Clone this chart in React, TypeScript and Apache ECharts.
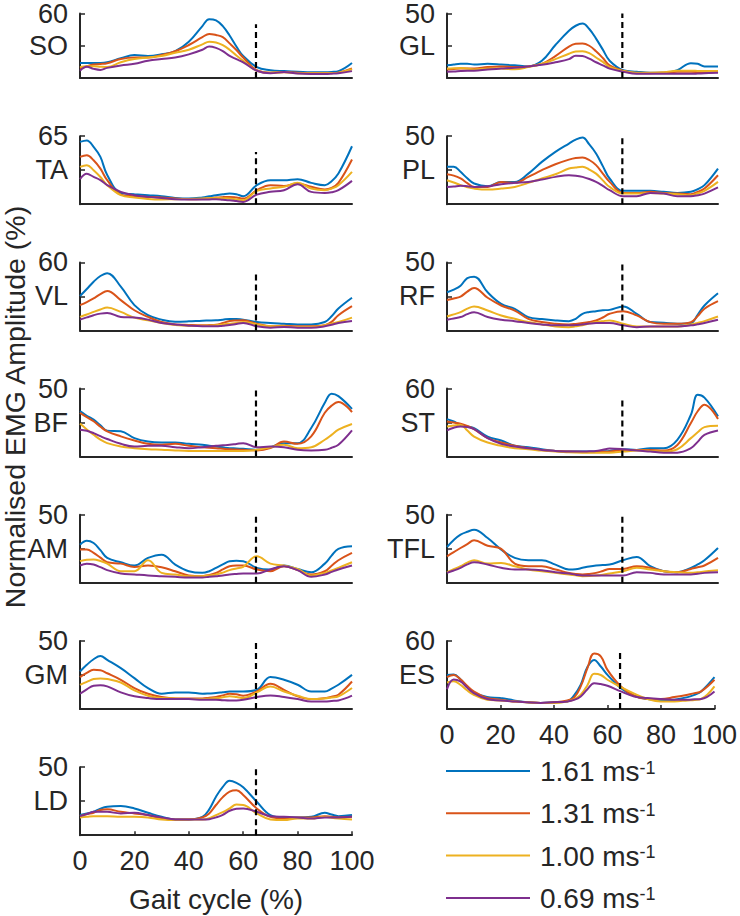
import { useEffect, useRef } from 'react';
import * as echarts from 'echarts';

// Gait cycle sample points (%)
const gaitX = [0, 2.5, 5, 7.5, 10, 15, 20, 25, 30, 35, 40, 45, 47.5, 50, 52.5, 55, 57.5, 60, 65, 70, 75, 80, 85, 90, 92.5, 95, 100];
const speeds = ['1.61', '1.31', '1.00', '0.69'];
const colors = ['#0072BD', '#D95319', '#EDB120', '#7E2F8E'];
const toeOff = 64.7;
const toeOffTop = 50;
const xTickValues = [0, 20, 40, 60, 80, 100];

const leftMuscles = ['SO', 'TA', 'VL', 'BF', 'AM', 'GM', 'LD'];
const leftMax = [60, 65, 60, 50, 50, 50, 50];
const rightMuscles = ['GL', 'PL', 'RF', 'ST', 'TFL', 'ES'];
const rightMax = [50, 50, 50, 60, 50, 60];

// each muscle: rows = speeds (1.61, 1.31, 1.00, 0.69 m/s), columns = gaitX
const SO = [
  [14, 14, 14, 14, 14.6, 18.4, 21.4, 20.5, 22, 24.9, 33.7, 48.3, 54.7, 53.6, 48.3, 39.5, 29.3, 20.5, 10.2, 7.3, 6.4, 5.9, 5.3, 5.3, 5.6, 6.4, 14],
  [8.8, 11, 12.6, 13, 13.8, 17.6, 19, 19, 21.4, 24.9, 30.7, 38, 41, 40, 38, 32.2, 26, 19, 7.3, 5, 5.3, 5, 4.4, 4.4, 4.6, 5, 8.8],
  [10.2, 11, 11, 10.5, 10.2, 14.6, 17.6, 19, 20.5, 23.4, 26.3, 31.3, 33.7, 33, 30.5, 26.3, 21, 16, 6.7, 5, 5.6, 4.4, 4.4, 4.4, 4.6, 5, 8.2],
  [6.7, 10.5, 8.5, 7.5, 9.4, 11.7, 13.2, 16, 17.6, 19, 22, 26.3, 29.3, 28, 25, 20.5, 17.5, 14.6, 6.7, 4.4, 5.6, 4.1, 3.8, 3.8, 4, 4.4, 6.4],
];
const TA = [
  [59.6, 61, 54.8, 45.2, 28, 10.8, 9.6, 8.6, 7.6, 6, 5.4, 6.4, 7.5, 8.6, 9.5, 10.2, 9.5, 7.6, 18.2, 22.9, 22.9, 23.9, 20.4, 18.2, 22, 29.3, 55.4],
  [45.2, 46.8, 42, 34, 23, 9.2, 7.6, 7, 6.4, 5.4, 4.8, 5, 5.6, 6.4, 6.8, 7, 6.4, 5.4, 13.4, 18.2, 17.5, 19.8, 16.6, 14, 15.5, 20.4, 42.7],
  [35.7, 37.3, 32.5, 26, 18.2, 8.6, 6.4, 5, 4.5, 4.8, 5, 5.4, 5.7, 6, 5.7, 5.4, 4.6, 3.8, 12.7, 15, 16.6, 20.4, 15, 13.4, 15, 18.2, 30.9],
  [23.9, 29, 26.1, 23, 18.2, 11.8, 8.6, 7, 6, 4.8, 4.5, 4.5, 4.6, 4.8, 4.3, 3.8, 3, 2.2, 9.2, 11.8, 13.4, 19.1, 11.8, 10.8, 11.5, 13.4, 22.3],
];
const VL = [
  [30.3, 36.5, 43, 48, 50.5, 38.6, 22.3, 13.4, 9.5, 7.7, 8, 8.6, 8.7, 8.9, 9.5, 10.1, 10, 9.5, 7.4, 6.5, 5.9, 5.3, 5.3, 7.4, 12.5, 19.3, 28.8],
  [22.3, 25, 28.2, 32, 34.8, 26.7, 17.8, 11.9, 7.4, 5.3, 4.8, 4.5, 4.7, 5, 6.5, 8.3, 8.7, 8.9, 5.9, 3.6, 4.2, 3.6, 3.6, 4.5, 7.5, 13.4, 21.4],
  [11.9, 14, 16.3, 18.5, 20.2, 16.3, 11.3, 8.9, 6.5, 4.8, 4.2, 4.2, 4.3, 4.5, 5.2, 5.9, 6.6, 7.4, 5.3, 3.6, 3.6, 3, 3, 4.5, 6, 7.4, 11.3],
  [9.5, 11.5, 13.4, 14.8, 15.4, 11.9, 11.3, 9.5, 6.5, 5.3, 4.2, 3.6, 3.6, 3.6, 4.2, 4.8, 5.7, 6.5, 3.6, 2.4, 3, 2.4, 2.4, 3.6, 5, 6.5, 8.3],
];
const BF = [
  [33.4, 30, 27.2, 23, 19.1, 18.6, 13.6, 11.1, 10.4, 10.4, 9.4, 8.7, 8, 7.4, 6.8, 6.2, 6, 5.7, 5, 6.9, 9.9, 9.9, 21, 39.6, 46.3, 44.5, 35.1],
  [32.2, 29, 26, 22, 18.6, 14.9, 11.9, 9.4, 8.7, 9.4, 7.9, 6.9, 6.5, 6.2, 5.8, 5.4, 5.2, 5, 4.5, 6.2, 11.1, 9.4, 14.9, 32.2, 37.5, 40.1, 32.7],
  [24.3, 20, 16.1, 12.5, 9.9, 7.4, 6.2, 5.4, 5, 4.5, 4.2, 4.2, 4.2, 4.2, 4.2, 4.2, 4.2, 4.2, 5, 6.9, 8.7, 6.2, 6.9, 12.4, 16, 19.8, 24],
  [19.8, 19, 17.3, 15, 12.9, 9.4, 7.4, 7.9, 7.9, 6.9, 6.2, 6.9, 7.4, 7.9, 8.3, 8.7, 9.3, 9.9, 6.9, 7.4, 6.9, 5, 4.5, 5, 6.5, 8.7, 19.3],
];
const AM = [
  [28, 31, 29.3, 24, 18.3, 15.1, 12.7, 18.3, 20.7, 13.4, 8.5, 7.3, 8.5, 11, 13.5, 15.9, 16.2, 15.9, 11, 9.8, 12.7, 10.2, 7.8, 14.1, 20, 24.9, 26.8],
  [24.4, 24.5, 22, 18.5, 15.1, 14.1, 11.7, 12.7, 11.5, 8.5, 5.4, 4.9, 5.8, 7.3, 9.8, 12.2, 12.7, 12.7, 9.8, 8.5, 12.2, 9.3, 6.1, 8.5, 12.5, 16.6, 22],
  [15.9, 17, 17.1, 16, 14.1, 8.5, 8.5, 16.6, 7.3, 6.1, 4.9, 4.9, 5.4, 6.1, 7.5, 9.3, 10.5, 11.7, 19.5, 14.1, 12.7, 10.2, 5.4, 7.3, 9, 11, 15.1],
  [12.7, 14, 13.4, 11.5, 9.3, 6.8, 6.1, 5.4, 4.9, 4.4, 3.9, 3.9, 4.4, 4.9, 5.4, 6.1, 6.5, 6.8, 6.8, 9.8, 12.2, 9.3, 4.4, 6.1, 8, 9.8, 12.7],
];
const GM = [
  [27.6, 32.5, 36.6, 39, 36.1, 30, 22.7, 15.4, 11.2, 12.2, 12.2, 11.2, 11.4, 11.7, 12.3, 12.9, 12.9, 12.9, 14.1, 23.5, 21.5, 17.8, 12.9, 12.9, 15, 17.8, 25.1],
  [23.4, 26.5, 28.8, 28.5, 26.3, 21.5, 15.4, 11.2, 8.8, 7.8, 7.8, 7.8, 8.3, 8.8, 10, 11.2, 10.8, 9.8, 12.9, 18.5, 14.1, 9.3, 7.3, 8, 9, 10.5, 20.2],
  [17.8, 20, 22, 22.5, 22, 19.5, 13.7, 9.8, 8, 7.8, 7.3, 7.3, 7.6, 8, 8.6, 9.3, 8.8, 8, 12.2, 16.6, 12.9, 9.8, 7.3, 7.8, 8.5, 9.3, 15.4],
  [11.2, 14.5, 17.1, 17.5, 16.6, 12.2, 9.3, 8, 7.3, 7.3, 7.3, 6.8, 6.8, 6.8, 6.5, 6.3, 6.3, 6.8, 8.8, 10, 8.8, 7.3, 5.6, 5.6, 5.9, 6.3, 9.8],
];
const LD = [
  [14.8, 16, 17.2, 19.5, 20.9, 21.4, 19.7, 16.5, 13.5, 11.6, 11.6, 13.5, 19, 28.3, 35.5, 40, 38.5, 35.2, 24.6, 14.8, 13.1, 13.1, 13.5, 16.5, 15.2, 14, 14.8],
  [14, 15.5, 16.5, 18.5, 19, 17.2, 16, 14.8, 12.3, 11.6, 11.6, 13.1, 16, 22.2, 28, 32, 33, 29.6, 19.7, 13.5, 12.3, 13.1, 13.1, 14, 13.5, 13.1, 13.5],
  [13.1, 13.5, 14, 14, 14, 13.5, 13.5, 13.1, 11.6, 11.1, 11.6, 11.6, 12.5, 14.8, 17, 19.7, 22.5, 22.2, 16, 11.6, 11.1, 12.3, 12.3, 13.5, 12.8, 12.3, 11.6],
  [14, 15.5, 17.2, 17.3, 17.2, 16, 16.5, 14.8, 13.1, 11.6, 11.6, 11.6, 11.8, 13.1, 15, 18, 19.5, 19.7, 17.2, 14, 13.5, 13.1, 12.3, 13.1, 13, 13.1, 13.5],
];
const GL = [
  [9.8, 10.5, 11, 11, 10.5, 11, 10.5, 9.8, 9, 13.4, 25.6, 36.6, 40.5, 42.2, 38, 30.5, 22, 13.4, 6.1, 4.9, 4.1, 4.1, 6.1, 11.5, 11, 9, 9],
  [6.6, 7, 7.3, 7.3, 7.3, 8.5, 9, 8.5, 9, 11, 17, 24.4, 26.5, 26.8, 25, 20.7, 15.5, 9.8, 5.6, 3.7, 3.7, 4.1, 4.9, 4.9, 4.6, 4.1, 4.9],
  [7.3, 7.5, 7.8, 7.3, 6.6, 7.3, 7.3, 6.8, 8.5, 11, 14.6, 18.8, 20.5, 20.7, 19.3, 15.9, 12.5, 8.5, 5.4, 4.1, 4.1, 4.4, 5.6, 5.6, 5.5, 5.4, 5.4],
  [4.9, 5, 5.4, 5.6, 5.6, 6.6, 7.3, 8, 9, 10.2, 12.2, 14.6, 17.3, 17, 15, 12.2, 9.8, 7.3, 4.9, 3.2, 3.2, 3.2, 3.2, 3.2, 3.4, 3.7, 4.1],
];
const PL = [
  [27.5, 27.6, 23.8, 19, 15.2, 13.2, 16.4, 16.4, 22.5, 31.1, 38.5, 44.6, 47.5, 49, 44, 37.3, 28, 18.9, 9.8, 9.8, 9.8, 9.1, 8.3, 9.1, 11, 14, 26.2],
  [22, 21, 18.9, 15.5, 12.7, 12.7, 16.4, 15.7, 20.1, 25, 29.4, 32.8, 34, 34.3, 32.5, 28.7, 22.5, 16.4, 8.3, 8.3, 9.1, 8.3, 7.8, 7.4, 9, 11.5, 21.3],
  [17.6, 16, 14, 12.5, 11.5, 10.8, 11.5, 12.7, 15.7, 18.9, 22, 26.2, 27, 27.5, 25.5, 22.5, 17.5, 12.7, 7.8, 7.8, 8.3, 7.8, 7.4, 6.6, 8, 9.8, 16.4],
  [12.7, 13, 13.5, 13.2, 12.7, 13.2, 14.7, 15.7, 16.4, 18.1, 20.1, 21.3, 21, 20.1, 18.5, 16.4, 13.5, 10.3, 5.9, 5.9, 8.3, 7.8, 5.9, 5.9, 6.6, 7.8, 12.3],
];
const RF = [
  [28, 30, 32.9, 38.5, 39.5, 28, 19.5, 15.9, 9.8, 8.3, 7.3, 6.8, 8.5, 12.2, 13.5, 14.1, 14.8, 15.1, 17.6, 12.2, 6.1, 5.6, 4.9, 5.4, 11.5, 18.3, 27.3],
  [22.4, 23.5, 24.9, 28.5, 31.2, 24, 18.3, 14.6, 8.5, 6.1, 4.9, 4.4, 4.8, 5.4, 6.2, 7.3, 9.5, 12.2, 14.1, 11, 6.1, 4.9, 4.9, 6.1, 10.5, 15.9, 21.5],
  [10.2, 11.8, 13.4, 16, 17.6, 14.6, 11, 8.5, 6.1, 4.4, 2.9, 2.4, 3, 3.7, 5, 6.1, 6.8, 7.3, 4.9, 2.9, 2.9, 2.9, 2.9, 4.4, 5.5, 6.8, 10.2],
  [7.8, 8.8, 9.8, 12, 13.4, 9.8, 7.8, 6.8, 5.4, 4.4, 3.7, 3.7, 4, 4.4, 5, 5.4, 5.4, 5.4, 3.7, 2.4, 2.9, 2.9, 2.9, 3.7, 4.5, 5.4, 7.8],
];
const ST = [
  [33.1, 31, 28.1, 26.5, 25.1, 17.7, 14.2, 9.5, 8.3, 6.5, 5, 4.4, 4.4, 4.4, 4.4, 4.4, 4.7, 5, 6.5, 5.9, 7.4, 7.4, 14.8, 36.9, 54.5, 52, 35.5],
  [31, 30, 29, 27, 24.2, 16.3, 12.4, 9.5, 7.4, 5.9, 5, 4.4, 4.2, 4.1, 4.1, 4.1, 4.2, 4.4, 5.9, 5.9, 5.9, 5.3, 10.3, 29.6, 40, 45.8, 33.1],
  [26.6, 27.5, 28.1, 23, 17.7, 12.4, 9.5, 7.4, 6.5, 5.3, 4.4, 3.8, 3.6, 3.5, 3.5, 3.5, 3.5, 3.5, 4.4, 5.3, 5, 4.4, 6.5, 16.3, 21.5, 26, 27.2],
  [23.1, 25.5, 26.6, 26, 24.2, 16.3, 11.2, 8.9, 7.4, 5.9, 5, 4.4, 4.4, 4.4, 4.7, 5, 6, 7.1, 6.5, 5.3, 4.4, 3.5, 3.5, 7.4, 13, 19.2, 23.1],
];
const TFL = [
  [26.3, 31.5, 35.4, 37.5, 39, 32.9, 24.4, 18.3, 16.6, 16.6, 13.4, 9.8, 10, 11, 12, 12.7, 13, 13.4, 16.6, 19, 12.2, 8.5, 7.8, 11, 13.5, 16.6, 25.6],
  [19.5, 22.5, 25.6, 28.5, 31.2, 27.3, 24.9, 14.1, 12.2, 12.2, 9.8, 7.3, 6.5, 6.1, 6.5, 7.3, 8.7, 10.2, 10.2, 12.2, 11, 8.5, 7.8, 10.2, 11.4, 12.7, 18.3],
  [7.8, 10, 12.2, 14.8, 16.6, 14.1, 14.6, 12.2, 9.8, 8.5, 7.3, 6.1, 5.5, 4.9, 5, 5.4, 6, 6.8, 8.5, 11, 9.8, 8.5, 7.8, 7.3, 7.7, 8.3, 9.3],
  [7.3, 9, 11, 13.5, 15.1, 13.4, 11, 9.8, 9.8, 9.3, 7.8, 6.8, 6, 5.4, 5.4, 5.4, 5.4, 5.4, 5.4, 7.8, 7.3, 6.1, 6.1, 6.1, 6.6, 7.3, 7.8],
];
const ES = [
  [30.1, 30.5, 26.3, 20, 14.6, 10.5, 9.7, 7.6, 5.9, 5.3, 5.9, 6.7, 12, 21.4, 37, 43.3, 37.5, 30.1, 18.4, 11.7, 8.8, 7.6, 8.2, 10.5, 12.5, 15.5, 28.1],
  [28.1, 30, 26.3, 20.5, 15.5, 9.7, 8.2, 6.7, 5.9, 5.3, 5.9, 7.6, 10, 19.9, 36, 49, 46.5, 34.5, 19.9, 11.7, 8.8, 8.8, 10.5, 12.6, 14, 15.5, 25.8],
  [23.4, 24.5, 21.4, 16.5, 12.6, 8.2, 7.6, 6.7, 5.9, 5.3, 5.3, 6.7, 8.5, 12.6, 21, 31, 30, 25.8, 19.3, 13.5, 8.8, 6.7, 6.7, 7.6, 8, 8.8, 19.9],
  [17.6, 26, 24.3, 19, 14, 8.8, 7.6, 6.7, 5.9, 5.3, 5.9, 6.7, 8, 11.1, 17.5, 22.8, 22, 20.5, 15.5, 11.1, 9.7, 8.8, 8.2, 8.2, 8.5, 8.8, 15.5],
];

const emg: Record<string, number[][]> = { SO, TA, VL, BF, AM, GM, LD, GL, PL, RF, ST, TFL, ES };

const FONT = 'Liberation Sans, Arial, Helvetica, sans-serif';
const INK = '#262626';

function buildOption() {
  const panels = [
    ...leftMuscles.map((m, i) => ({ m, col: 0, row: i, max: leftMax[i], bottom: i === leftMuscles.length - 1 })),
    ...rightMuscles.map((m, i) => ({ m, col: 1, row: i, max: rightMax[i], bottom: i === rightMuscles.length - 1 })),
  ];
  const grid = panels.map((p) => ({
    left: p.col === 0 ? 80 : 447,
    width: p.col === 0 ? 272 : 271,
    top: 10 + p.row * 126.2,
    height: 68,
  }));
  const xAxis = panels.map((p, i) => ({
    gridIndex: i,
    type: 'value',
    min: xTickValues[0],
    max: xTickValues[xTickValues.length - 1],
    interval: xTickValues[1] - xTickValues[0],
    axisLine: { show: true, lineStyle: { color: INK, width: 2 } },
    axisTick: { show: p.bottom, inside: true, length: 4, lineStyle: { color: INK, width: 1.5 } },
    axisLabel: { show: p.bottom, fontSize: 27, color: INK, margin: 12, fontFamily: FONT },
    splitLine: { show: false },
    name: p.bottom && p.col === 0 ? 'Gait cycle (%)' : '',
    nameLocation: 'middle',
    nameGap: 50,
    nameTextStyle: { fontSize: 28, color: INK, fontFamily: FONT },
  }));
  const yAxis = panels.map((p, i) => ({
    gridIndex: i,
    type: 'value',
    min: 0,
    max: p.max,
    interval: p.max / 2,
    axisLine: { show: true, lineStyle: { color: INK, width: 2 } },
    axisTick: { show: true, inside: true, length: 5, lineStyle: { color: INK, width: 1.5 } },
    axisLabel: {
      fontSize: 27,
      color: INK,
      margin: 12,
      fontFamily: FONT,
      formatter: (v: number) =>
        Math.abs(v - p.max) < 1e-6 ? String(p.max) : Math.abs(v - p.max / 2) < 1e-6 ? p.m : '',
    },
    splitLine: { show: false },
  }));
  const series: any[] = [];
  panels.forEach((p, i) => {
    emg[p.m].forEach((vals, s) => {
      series.push({
        type: 'line',
        name: `${speeds[s]} ms-1`,
        xAxisIndex: i,
        yAxisIndex: i,
        data: gaitX.map((x, k) => [x, vals[k]]),
        showSymbol: false,
        smooth: 0.4,
        color: colors[s],
        lineStyle: { width: 2, color: colors[s] },
        silent: true,
      });
    });
    series.push({
      type: 'line',
      name: 'toe-off',
      xAxisIndex: i,
      yAxisIndex: i,
      data: [[toeOff, 0], [toeOff, toeOffTop]],
      showSymbol: false,
      lineStyle: { width: 2.2, color: '#000', type: [6, 4] },
      z: 3,
      silent: true,
    });
  });

  const graphic: any[] = [
    {
      type: 'text',
      x: 15,
      y: 407,
      rotation: Math.PI / 2,
      style: {
        text: 'Normalised EMG Amplitude (%)',
        x: 0,
        y: 0,
        align: 'center',
        verticalAlign: 'middle',
        fontSize: 28.5,
        fontFamily: FONT,
        fill: INK,
      },
    },
  ];
  speeds.forEach((sp, i) => {
    const y = 771 + i * 42.3;
    graphic.push({
      type: 'line',
      shape: { x1: 446, y1: y, x2: 530, y2: y },
      style: { stroke: colors[i], lineWidth: 2 },
    });
    graphic.push({
      type: 'text',
      x: 540,
      y: y + 0.5,
      style: {
        text: `{m|${sp} ms}{s|-1}`,
        verticalAlign: 'middle',
        fill: INK,
        fontFamily: FONT,
        rich: {
          m: { fontSize: 28, fontFamily: FONT, fill: INK, lineHeight: 26 },
          s: { fontSize: 18, fontFamily: FONT, fill: INK, verticalAlign: 'top' },
        },
      },
    });
  });

  return {
    animation: false,
    backgroundColor: '#ffffff',
    grid,
    xAxis,
    yAxis,
    series,
    graphic,
  };
}

export default function App() {
  const ref = useRef<HTMLDivElement>(null);
  useEffect(() => {
    if (!ref.current) return;
    const chart = echarts.init(ref.current, undefined, { renderer: 'svg' });
    chart.setOption(buildOption() as any);
    return () => chart.dispose();
  }, []);
  return <div ref={ref} style={{ position: 'fixed', left: 0, top: 0, width: 740, height: 916 }} />;
}
